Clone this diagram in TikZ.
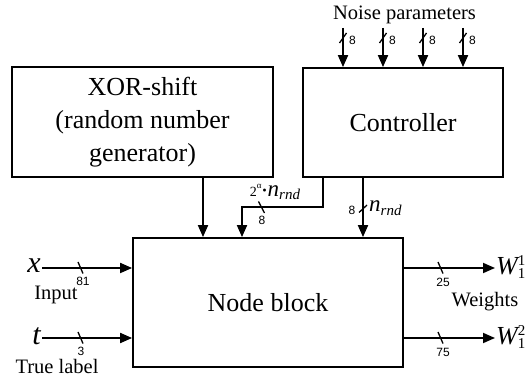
\documentclass[tikz,border=0pt]{standalone}
\usepackage{fontspec}
\setmainfont{Liberation Serif}
\setsansfont{Liberation Sans}
\usetikzlibrary{arrows.meta,calc}
\begin{document}
\begin{tikzpicture}[x=1pt,y=-1pt,
  blk/.style={draw, line width=1.8pt, inner sep=0pt, align=center, font=\fontsize{26}{33}\selectfont},
  arr/.style={line width=1.8pt, -{Triangle[length=12pt,width=10pt]}},
  tk/.style={line width=1.3pt},
  num/.style={font=\sffamily\fontsize{12}{12}\selectfont, inner sep=0pt},
  lbl/.style={font=\fontsize{20.5}{22}\selectfont, inner sep=0pt},
  var/.style={font=\fontsize{30}{30}\selectfont\itshape, inner sep=0pt}]
\useasboundingbox (0,0) rectangle (528,374);
% blocks
\node[blk, minimum width=261pt, minimum height=110pt] (xor) at (142.5,122) {XOR-shift\\(random number\\generator)};
\node[blk, minimum width=200pt, minimum height=109pt] (ctl) at (403,122.5) {Controller};
\node[blk, minimum width=270pt, minimum height=129pt] (nb) at (268,302.5) {Node block};
% noise parameters
\node[lbl] (np) at (404.5,15) {Noise parameters};
\foreach \i/\xx in {1/343,2/383,3/423,4/463}{
  \coordinate (np\i) at (\xx,28);
  \draw[arr] (np\i) -- (np\i |- ctl.north);
  \draw[tk] ($(np\i)+(-3.5,15)$) -- ($(np\i)+(3.5,5)$);
  \node[num, anchor=west] (n8\i) at ($(np\i)+(6,12)$) {8};
}
% XOR to node block
\coordinate (a1) at (203,0);
\draw[arr] (xor.south -| a1) -- (nb.north -| a1);
% controller 2^alpha path
\coordinate (b1) at (323,207);
\coordinate (b2) at (242,207);
\draw[arr] (ctl.south -| b1) -- (b1) -- (b2) -- (nb.north -| b2);
\draw[tk] (258.5,201.5) -- (264.5,213);
\node[num] (l8a) at (262,220) {8};
\node[inner sep=0pt] (alab) at (275,192) {{\fontsize{14}{14}\selectfont 2\raisebox{0.55em}{\fontsize{9}{9}\selectfont α}}{\fontsize{18}{18}\selectfont\textbf{·}}{\fontsize{23}{23}\selectfont\itshape n}{\fontsize{15}{15}\selectfont\itshape\raisebox{-0.25em}{rnd}}};
% controller to node block
\coordinate (a4) at (363,0);
\draw[arr] (ctl.south -| a4) -- (nb.north -| a4);
\draw[tk] (359,212.5) -- (367,205);
\node[num] (l8b) at (352,210) {8};
\node[inner sep=0pt, anchor=west] (nrnd) at (369,208) {{\fontsize{23}{23}\selectfont\itshape n}{\fontsize{15}{15}\selectfont\itshape\raisebox{-0.25em}{rnd}}};
% inputs
\coordinate (xin) at (42,268);
\coordinate (tin) at (42,338);
\node[var, anchor=east] (xv) at ($(xin)+(-1,-2)$) {x};
\node[var, anchor=east] (tv) at ($(tin)+(-1,-2)$) {t};
\draw[arr] (xin) -- (xin -| nb.west);
\draw[arr] (tin) -- (tin -| nb.west);
\draw[tk] (78,262) -- (83,273.5);
\draw[tk] (78,332) -- (83,343.5);
\node[num] (l81) at (83,281) {81};
\node[num] (l3) at (81,351) {3};
\node[lbl] (inp) at (56,295) {Input};
\node[lbl] (tl) at (57,366) {True label};
% outputs
\coordinate (w1) at (495,268);
\coordinate (w2) at (495,338);
\draw[arr] (nb.east |- w1) -- (w1);
\draw[arr] (nb.east |- w2) -- (w2);
\draw[tk] (438,262) -- (443,273.5);
\draw[tk] (438,332) -- (443,343.5);
\node[num] (l25) at (443,282) {25};
\node[num] (l75) at (443,352) {75};
\node[inner sep=0pt, anchor=west] (wv1) at ($(w1)+(1,-1)$) {{\fontsize{26}{26}\selectfont\itshape W}{\fontsize{15}{15}\selectfont\rlap{\raisebox{0.6em}{1}}\raisebox{-0.3em}{1}}};
\node[inner sep=0pt, anchor=west] (wv2) at ($(w2)+(1,-1)$) {{\fontsize{26}{26}\selectfont\itshape W}{\fontsize{15}{15}\selectfont\rlap{\raisebox{0.6em}{2}}\raisebox{-0.3em}{1}}};
\node[lbl] (wts) at (485,302) {Weights};
\end{tikzpicture}
\end{document}
